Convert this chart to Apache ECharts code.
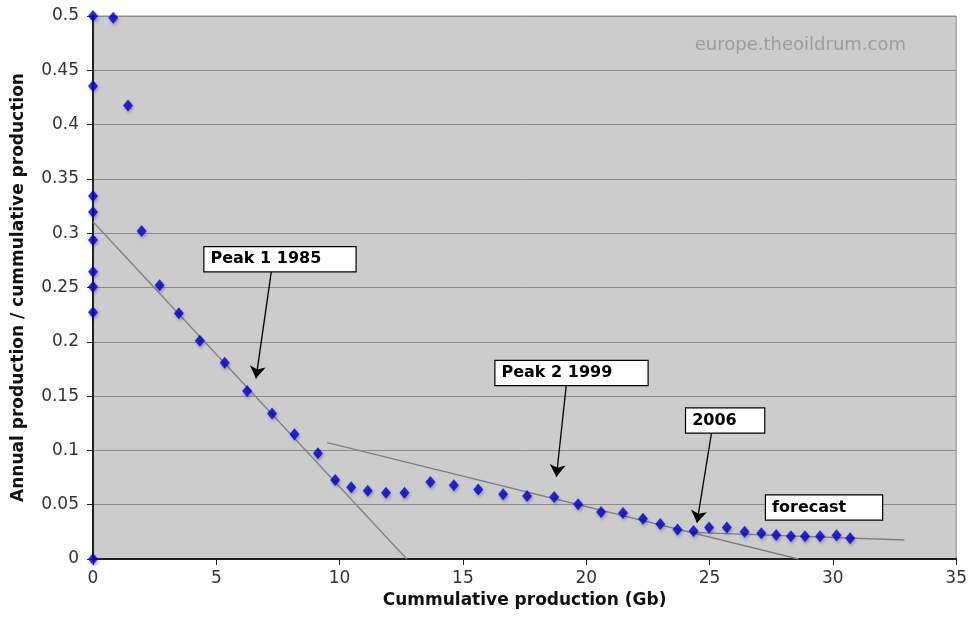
<!DOCTYPE html>
<html>
<head>
<meta charset="utf-8">
<script src="https://cdn.jsdelivr.net/npm/echarts@6/dist/echarts.min.js"></script>
<style>
html, body { margin:0; padding:0; background:#fff; }
#main { width:970px; height:625px; }
</style>
</head>
<body>
<div id="main"></div>
<script>
// cumulative production (Gb) and annual/cumulative ratio
var cumProd = [0, 0, 0, 0, 0, 0, 0, 0, 0,
  0.82, 1.42, 1.97, 2.70, 3.48, 4.33, 5.34, 6.25, 7.26, 8.17, 9.12, 9.82,
  10.47, 11.14, 11.88, 12.63, 13.68, 14.63, 15.62, 16.63, 17.6, 18.7, 19.67,
  20.6, 21.49, 22.3, 23.0, 23.7, 24.35, 24.98, 25.7, 26.42, 27.1, 27.7,
  28.3, 28.87, 29.48, 30.15, 30.7];
var ratio = [0, 0.5, 0.4355, 0.3343, 0.3195, 0.2937, 0.2646, 0.2508, 0.2271,
  0.4985, 0.4177, 0.302, 0.252, 0.2262, 0.201, 0.1808, 0.1547, 0.134, 0.1148, 0.0973, 0.0727,
  0.066, 0.0629, 0.061, 0.061, 0.071, 0.0679, 0.0639, 0.0596, 0.058, 0.0571, 0.0503,
  0.0432, 0.0423, 0.037, 0.0322, 0.0272, 0.0257, 0.029, 0.029, 0.0251, 0.0238, 0.0221,
  0.021, 0.021, 0.021, 0.0219, 0.019];

// fitted trend lines (start / end points)
var trend1 = [[0, 0.3106], [12.72, 0]];
var trend2 = [[9.5, 0.1071], [28.6, 0]];
var trend3 = [[24.3, 0.0246], [32.9, 0.0175]];

// annotation boxes: label, left-middle anchor, box width
var noteText = ['Peak 1 1985', 'Peak 2 1999', '2006', 'forecast'];
var noteAt = [[4.52, 0.276], [16.32, 0.1713], [24.05, 0.1275], [27.29, 0.0474]];
var noteW = [153, 154, 80, 118];
// arrows: from box to point
var arrowFrom = [[7.23, 0.2646], [19.19, 0.160], [25.08, 0.1163]];
var arrowTo = [[6.61, 0.1664], [18.79, 0.0758], [24.49, 0.0334]];

var xTicks = [0, 35, 5];
var yTicks = [0, 0.5, 0.05];

var FONT = 'DejaVu Sans';

var points = cumProd.map(function(x, i){ return [x, ratio[i]]; });

var chart = echarts.init(document.getElementById('main'));

var trendStyle = { color:'#7f7f7f', width:1.3 };
function trendSeries(d){
  return { type:'line', data:d, showSymbol:false, symbol:'none', silent:true,
           lineStyle:trendStyle, z:2, animation:false };
}

var option = {
  animation: false,
  grid: { left:93, right:13, top:16, bottom:66, show:true,
          backgroundColor:'#cccccc', borderColor:'#8a8a8a', borderWidth:1 },
  xAxis: {
    type:'value', min:xTicks[0], max:xTicks[1], interval:xTicks[2],
    name:'Cummulative production (Gb)', nameLocation:'middle', nameGap:30,
    nameTextStyle:{ fontFamily:FONT, fontWeight:'bold', fontSize:17, color:'#111' },
    axisLine:{ show:true, onZero:false, lineStyle:{ color:'#222', width:2 } },
    axisTick:{ show:true, length:6, lineStyle:{ color:'#222' } },
    axisLabel:{ fontFamily:FONT, fontSize:17, color:'#333', margin:11 },
    splitLine:{ show:false }
  },
  yAxis: {
    type:'value', min:yTicks[0], max:yTicks[1], interval:yTicks[2],
    name:'Annual production / cummulative production', nameLocation:'middle', nameGap:66,
    nameTextStyle:{ fontFamily:FONT, fontWeight:'bold', fontSize:17, color:'#111' },
    axisLine:{ show:true, onZero:false, lineStyle:{ color:'#222', width:2 } },
    axisTick:{ show:true, length:6, lineStyle:{ color:'#222' } },
    axisLabel:{ fontFamily:FONT, fontSize:17, color:'#333', margin:14,
      formatter:function(v){ return String(+v.toFixed(2)); } },
    splitLine:{ show:true, lineStyle:{ color:'#8c8c8c', width:1 } }
  },
  graphic: [{
    type:'text', right:64, top:36, silent:true,
    style:{ text:'europe.theoildrum.com', fill:'#9c9c9c', font:'18px "DejaVu Sans"' }
  }],
  series: [
    trendSeries(trend1),
    trendSeries(trend2),
    trendSeries(trend3),
    {
      type:'scatter', data:points, symbol:'diamond', symbolSize:[10, 12], z:5,
      itemStyle:{ color:'#0000c8', shadowBlur:3, shadowOffsetX:1, shadowOffsetY:2,
                  shadowColor:'rgba(40,40,150,0.45)' }
    },
    {
      type:'line', data:[], z:10, silent:true,
      markLine:{
        silent:true, symbol:['none','arrow'], symbolSize:12,
        lineStyle:{ color:'#000', width:1.3, type:'solid' },
        label:{ show:false },
        data: arrowFrom.map(function(p, i){ return [{ coord:p }, { coord:arrowTo[i] }]; })
      },
      markPoint:{
        silent:true, symbol:'circle', symbolSize:0,
        data: noteText.map(function(t, i){
          return {
            coord: noteAt[i], name:t,
            label:{ show:true, position:'right', distance:0, formatter:t,
              backgroundColor:'#fff', borderColor:'#000', borderWidth:1.2,
              padding:[3,6,3,6], lineHeight:18, width:noteW[i]-14, align:'left',
              fontFamily:FONT, fontWeight:'bold', fontSize:16, color:'#000' }
          };
        })
      }
    }
  ]
};

chart.setOption(option);
</script>
</body>
</html>
